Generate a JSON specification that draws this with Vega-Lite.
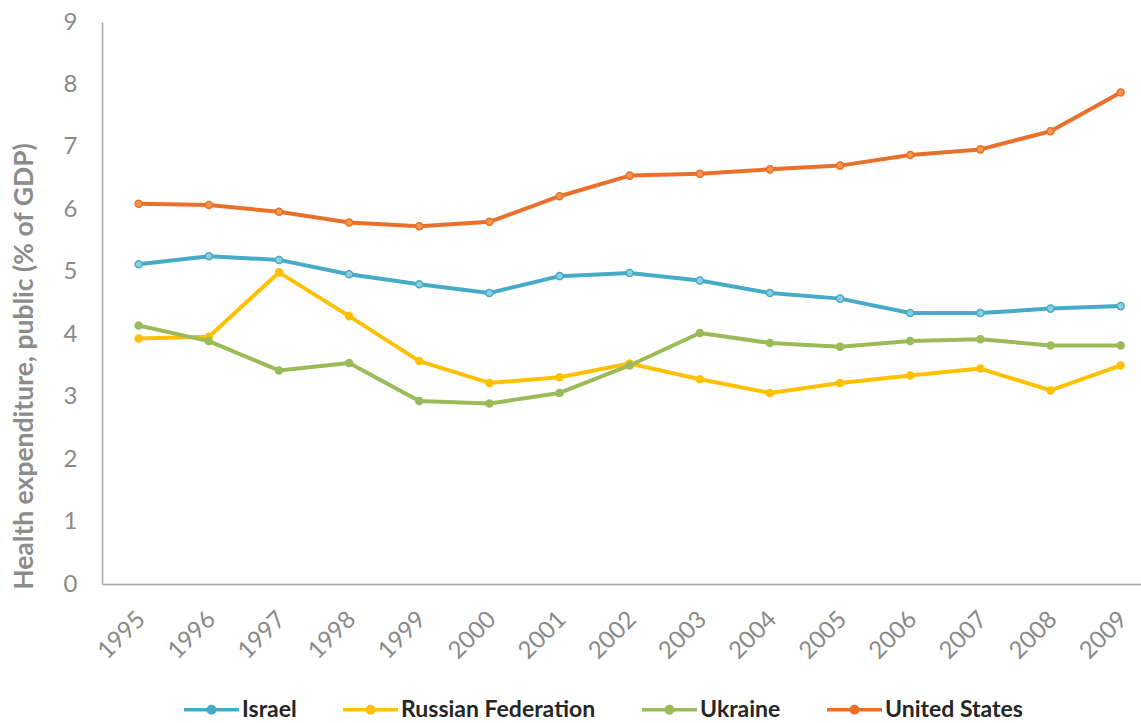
{
  "$schema": "https://vega.github.io/schema/vega-lite/v6.json",
  "autosize": {"type": "none"},
  "width": 1039,
  "height": 562,
  "padding": {"left": 102, "top": 22, "right": 0, "bottom": 139},
  "background": "white",
  "config": {
    "view": {"stroke": null},
    "font": "Lato"
  },
  "data": {
    "values": [
      {"country": "Israel", "year": 1995, "value": 5.12},
      {"country": "Israel", "year": 1996, "value": 5.25},
      {"country": "Israel", "year": 1997, "value": 5.19},
      {"country": "Israel", "year": 1998, "value": 4.96},
      {"country": "Israel", "year": 1999, "value": 4.80},
      {"country": "Israel", "year": 2000, "value": 4.66},
      {"country": "Israel", "year": 2001, "value": 4.93},
      {"country": "Israel", "year": 2002, "value": 4.98},
      {"country": "Israel", "year": 2003, "value": 4.86},
      {"country": "Israel", "year": 2004, "value": 4.66},
      {"country": "Israel", "year": 2005, "value": 4.57},
      {"country": "Israel", "year": 2006, "value": 4.34},
      {"country": "Israel", "year": 2007, "value": 4.34},
      {"country": "Israel", "year": 2008, "value": 4.41},
      {"country": "Israel", "year": 2009, "value": 4.45},
      {"country": "Russian Federation", "year": 1995, "value": 3.93},
      {"country": "Russian Federation", "year": 1996, "value": 3.96},
      {"country": "Russian Federation", "year": 1997, "value": 4.99},
      {"country": "Russian Federation", "year": 1998, "value": 4.29},
      {"country": "Russian Federation", "year": 1999, "value": 3.57},
      {"country": "Russian Federation", "year": 2000, "value": 3.22},
      {"country": "Russian Federation", "year": 2001, "value": 3.31},
      {"country": "Russian Federation", "year": 2002, "value": 3.53},
      {"country": "Russian Federation", "year": 2003, "value": 3.28},
      {"country": "Russian Federation", "year": 2004, "value": 3.06},
      {"country": "Russian Federation", "year": 2005, "value": 3.22},
      {"country": "Russian Federation", "year": 2006, "value": 3.34},
      {"country": "Russian Federation", "year": 2007, "value": 3.45},
      {"country": "Russian Federation", "year": 2008, "value": 3.10},
      {"country": "Russian Federation", "year": 2009, "value": 3.50},
      {"country": "Ukraine", "year": 1995, "value": 4.14},
      {"country": "Ukraine", "year": 1996, "value": 3.89},
      {"country": "Ukraine", "year": 1997, "value": 3.42},
      {"country": "Ukraine", "year": 1998, "value": 3.54},
      {"country": "Ukraine", "year": 1999, "value": 2.93},
      {"country": "Ukraine", "year": 2000, "value": 2.89},
      {"country": "Ukraine", "year": 2001, "value": 3.06},
      {"country": "Ukraine", "year": 2002, "value": 3.50},
      {"country": "Ukraine", "year": 2003, "value": 4.02},
      {"country": "Ukraine", "year": 2004, "value": 3.86},
      {"country": "Ukraine", "year": 2005, "value": 3.80},
      {"country": "Ukraine", "year": 2006, "value": 3.89},
      {"country": "Ukraine", "year": 2007, "value": 3.92},
      {"country": "Ukraine", "year": 2008, "value": 3.82},
      {"country": "Ukraine", "year": 2009, "value": 3.82},
      {"country": "United States", "year": 1995, "value": 6.09},
      {"country": "United States", "year": 1996, "value": 6.07},
      {"country": "United States", "year": 1997, "value": 5.96},
      {"country": "United States", "year": 1998, "value": 5.79},
      {"country": "United States", "year": 1999, "value": 5.73},
      {"country": "United States", "year": 2000, "value": 5.80},
      {"country": "United States", "year": 2001, "value": 6.21},
      {"country": "United States", "year": 2002, "value": 6.54},
      {"country": "United States", "year": 2003, "value": 6.57},
      {"country": "United States", "year": 2004, "value": 6.64},
      {"country": "United States", "year": 2005, "value": 6.70},
      {"country": "United States", "year": 2006, "value": 6.87},
      {"country": "United States", "year": 2007, "value": 6.96},
      {"country": "United States", "year": 2008, "value": 7.25},
      {"country": "United States", "year": 2009, "value": 7.87}
    ]
  },
  "encoding": {
    "x": {
      "field": "year",
      "type": "quantitative",
      "scale": {"domain": [1994.477, 2009.29], "nice": false, "zero": false},
      "axis": {
        "values": [1995, 1996, 1997, 1998, 1999, 2000, 2001, 2002, 2003, 2004, 2005, 2006, 2007, 2008, 2009],
        "format": "d",
        "title": null,
        "grid": false,
        "ticks": false,
        "labelAngle": -45,
        "labelAlign": "right",
        "labelBaseline": "top",
        "labelPadding": 23,
        "labelOffset": -6,
        "labelFontSize": 24,
        "labelColor": "#8a8a8a",
        "domainColor": "#a6a6a6",
        "domainWidth": 1.5,
        "labelFlush": false,
        "labelOverlap": false
      }
    },
    "y": {
      "field": "value",
      "type": "quantitative",
      "scale": {"domain": [0, 9], "nice": false},
      "axis": {
        "values": [0, 1, 2, 3, 4, 5, 6, 7, 8, 9],
        "title": "Health expenditure, public (% of GDP)",
        "titleFontSize": 26.5,
        "titleFontWeight": "bold",
        "titleColor": "#8c8c8c",
        "titleAngle": -90,
        "titleAlign": "center",
        "titleBaseline": "alphabetic",
        "titleX": -70,
        "titleY": 344,
        "grid": false,
        "ticks": false,
        "labelPadding": 25,
        "labelFontSize": 24,
        "labelColor": "#8a8a8a",
        "domainColor": "#a6a6a6",
        "domainWidth": 1.5,
        "labelFlush": false
      }
    }
  },
  "layer": [
    {
      "mark": {"type": "line", "strokeWidth": 4, "strokeJoin": "round", "strokeCap": "round"},
      "encoding": {
        "color": {
          "field": "country",
          "type": "nominal",
          "scale": {
            "domain": ["Israel", "Russian Federation", "Ukraine", "United States"],
            "range": ["#46abc6", "#ffc000", "#9bbb59", "#e8702a"]
          },
          "legend": {
            "orient": "none",
            "direction": "horizontal",
            "legendX": 80,
            "legendY": 658,
            "title": null,
            "padding": 0,
            "symbolType": "M-1,0H1M0.12,0A0.12,0.12,0,1,1,-0.12,0A0.12,0.12,0,1,1,0.12,0Z",
            "symbolSize": 3025,
            "symbolStrokeWidth": 3.5,
            "labelOffset": 1,
            "columnPadding": 39,
            "labelFontSize": 23,
            "labelFontWeight": "bold",
            "labelColor": "#262626",
            "labelLimit": 400,
            "encode": {
              "symbols": {
                "update": {
                  "fill": {"scale": "color", "field": "value"},
                  "stroke": {"scale": "color", "field": "value"},
                  "opacity": {"value": 1}
                }
              }
            }
          }
        }
      }
    },
    {
      "mark": {"type": "point", "filled": true, "size": 50, "strokeWidth": 1.5, "opacity": 1},
      "encoding": {
        "fill": {
          "field": "country",
          "type": "nominal",
          "scale": {
            "domain": ["Israel", "Russian Federation", "Ukraine", "United States"],
            "range": ["#8ccfe0", "#ffc000", "#9bbb59", "#f5964e"]
          },
          "legend": null
        },
        "stroke": {
          "field": "country",
          "type": "nominal",
          "scale": {
            "domain": ["Israel", "Russian Federation", "Ukraine", "United States"],
            "range": ["#46abc6", "#ffc000", "#9bbb59", "#e8702a"]
          },
          "legend": null
        }
      }
    }
  ]
}
